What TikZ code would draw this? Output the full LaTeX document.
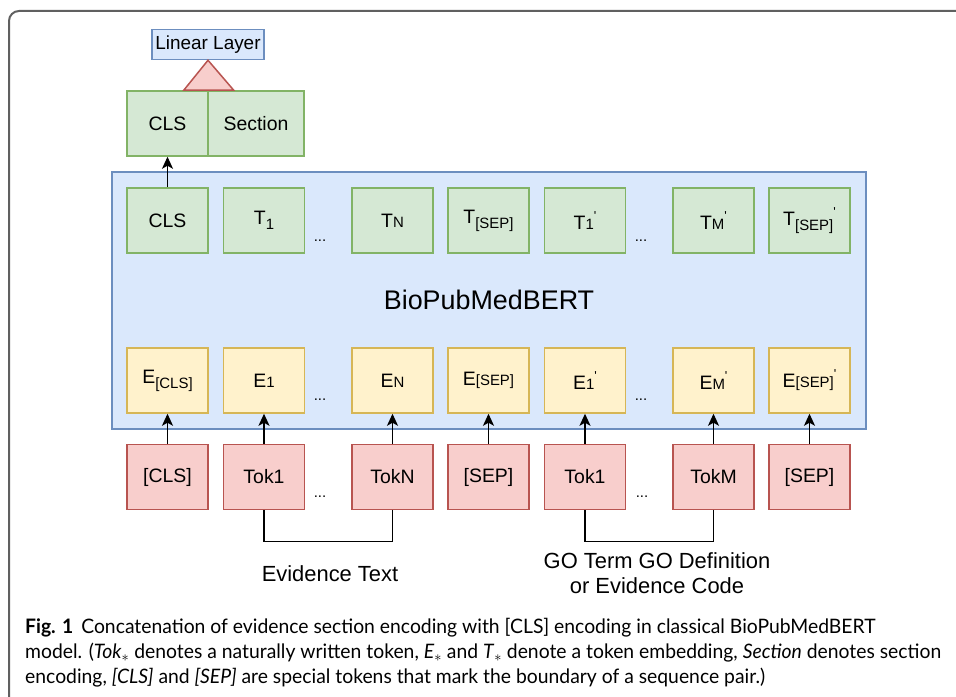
\documentclass[tikz,border=0pt]{standalone}
\usepackage{fontspec}
\setmainfont{Liberation Sans}
\newfontfamily\captionfont[FakeStretch=0.97]{Lato}
\usetikzlibrary{arrows.meta,calc}
\definecolor{lgreen}{HTML}{D5E8D4}
\definecolor{dgreen}{HTML}{82B366}
\definecolor{lyellow}{HTML}{FFF2CC}
\definecolor{dyellow}{HTML}{D6B656}
\definecolor{lred}{HTML}{F8CECC}
\definecolor{dred}{HTML}{B85450}
\definecolor{lblue}{HTML}{DAE8FC}
\definecolor{dblue}{HTML}{6C8EBF}
\newcommand{\labelfont}{\fontsize{19.5}{20}\selectfont}
\newcommand{\smtxt}[1]{{\fontsize{15}{15}\selectfont #1}}
\newcommand{\lowtxt}[1]{\raisebox{-5bp}{\smtxt{#1}}}
\newcommand{\primetxt}{\raisebox{9bp}{\fontsize{13}{13}\selectfont\textquotesingle}}
\tikzstyle{tbox}=[rectangle,draw=dgreen,fill=lgreen,line width=1.5bp,minimum width=81bp,minimum height=65bp,inner sep=0pt,font=\labelfont]
\tikzstyle{ebox}=[rectangle,draw=dyellow,fill=lyellow,line width=1.5bp,minimum width=81bp,minimum height=65bp,inner sep=0pt,font=\labelfont]
\tikzstyle{kbox}=[rectangle,draw=dred,fill=lred,line width=1.5bp,minimum width=81bp,minimum height=65bp,inner sep=0pt,font=\labelfont]
\tikzstyle{edge} = [draw,line width=1.5bp,-{Stealth[length=12bp,width=11bp,inset=3bp]}]
\tikzstyle{bracket} = [draw,line width=1.5bp]
\tikzstyle{dots} = [font=\fontsize{15}{15}\selectfont,inner sep=0pt]
\tikzstyle{note} = [font=\fontsize{22}{25}\selectfont,align=center,inner sep=0pt]

\begin{document}
\begin{tikzpicture}[x=1bp,y=-1bp]

    \useasboundingbox (0,0) rectangle (956,697);
    \begin{scope}
    \clip (0,0) rectangle (956,697);
    \draw[gray!75!black, line width=2bp, rounded corners=10bp] (9,11) rectangle (1000,720);
    \end{scope}

    % encoder block
    \node[rectangle,draw=dblue,fill=lblue,line width=1.5bp,minimum width=754bp,minimum height=257bp,inner sep=0pt] (bert) at (489,300.5) {};
    \node[font=\fontsize{27}{27}\selectfont] (bertname) at (489,300) {BioPubMedBERT};

    % output tokens
    \foreach \x/ \name / \label in {167.5/tcls/CLS, 264/tone/{T\lowtxt{1}}, 392.5/tn/{T\smtxt{N}}, 488.5/tsep/{T\lowtxt{[SEP]}},
        585/tonep/{T\smtxt{1}\primetxt}, 713.5/tm/{T\smtxt{M}\primetxt}, 809.5/tsepp/{T\lowtxt{[SEP]}\primetxt}}
        \node[tbox] (\name) at (\x,220.5) {\label};

    % embeddings
    \foreach \x/ \name / \label in {167.5/ecls/{E\lowtxt{[CLS]}}, 264/eone/{E\smtxt{1}}, 392.5/en/{E\smtxt{N}}, 488.5/esep/{E\smtxt{[SEP]}},
        585/eonep/{E\smtxt{1}\primetxt}, 713.5/em/{E\smtxt{M}\primetxt}, 809.5/esepp/{E\smtxt{[SEP]}\primetxt}}
        \node[ebox] (\name) at (\x,380.5) {\label};

    % input tokens
    \foreach \x/ \name / \label in {167.5/kcls/{[CLS]}, 264/kone/Tok1, 392.5/kn/TokN, 488.5/ksep/{[SEP]},
        585/konep/Tok1, 713.5/km/TokM, 809.5/ksepp/{[SEP]}}
        \node[kbox] (\name) at (\x,477) {\label};

    \foreach \pos/ \name in {{(320,241)}/tdotsa, {(641,241)}/tdotsb, {(320,400)}/edotsa, {(641,400)}/edotsb, {(320,497)}/kdotsa, {(642,497)}/kdotsb}
        \node[dots] (\name) at \pos {...};

    % tokens up to embeddings
    \foreach \source/ \dest in {kcls/ecls, kone/eone, kn/en, ksep/esep, konep/eonep, km/em, ksepp/esepp}
        \draw[edge] (\source) -- (\dest);

    % concatenation on top
    \node[rectangle,draw=dgreen,fill=lgreen,line width=1.5bp,minimum width=81bp,minimum height=65bp,inner sep=0pt,font=\labelfont] (ccls) at (167.5,123.5) {CLS};
    \node[rectangle,draw=dgreen,fill=lgreen,line width=1.5bp,minimum width=96bp,minimum height=65bp,inner sep=0pt,font=\labelfont] (csec) at (256,123.5) {Section};
    \node[rectangle,draw=dblue,fill=lblue,line width=1.5bp,minimum width=112bp,minimum height=30bp,inner sep=0pt,font=\fontsize{19}{19}\selectfont] (linear) at (208,44.5) {Linear Layer};
    \draw[draw=dred,fill=lred,line width=1.5bp] ($(ccls.north east)+(-25,0)$) -- (linear.south) -- ($(ccls.north east)+(25,0)$) -- cycle;
    \draw[edge] (tcls) -- (ccls);

    % text groups
    \draw[bracket] (kone.south) -- ++(0,31) -| (kn.south);
    \draw[bracket] (konep.south) -- ++(0,31) -| (km.south);
    \node[note] (evtext) at (330,574) {Evidence Text};
    \node[note] (goterm) at (657,573) {GO Term GO Definition\\or Evidence Code};

    \node[anchor=north west,align=left,inner sep=0pt,font=\captionfont\fontsize{20}{25}\selectfont] (caption) at (25,618)
        {\textbf{Fig. 1}\hspace{8bp}Concatenation of evidence section encoding with [CLS] encoding in classical BioPubMedBERT\\
        model. (\textit{Tok}$_*$ denotes a naturally written token, \textit{E}$_*$ and \textit{T}$_*$ denote a token embedding, \textit{Section} denotes section\\
        encoding, \textit{[CLS]} and \textit{[SEP]} are special tokens that mark the boundary of a sequence pair.)};
\end{tikzpicture}
\end{document}
